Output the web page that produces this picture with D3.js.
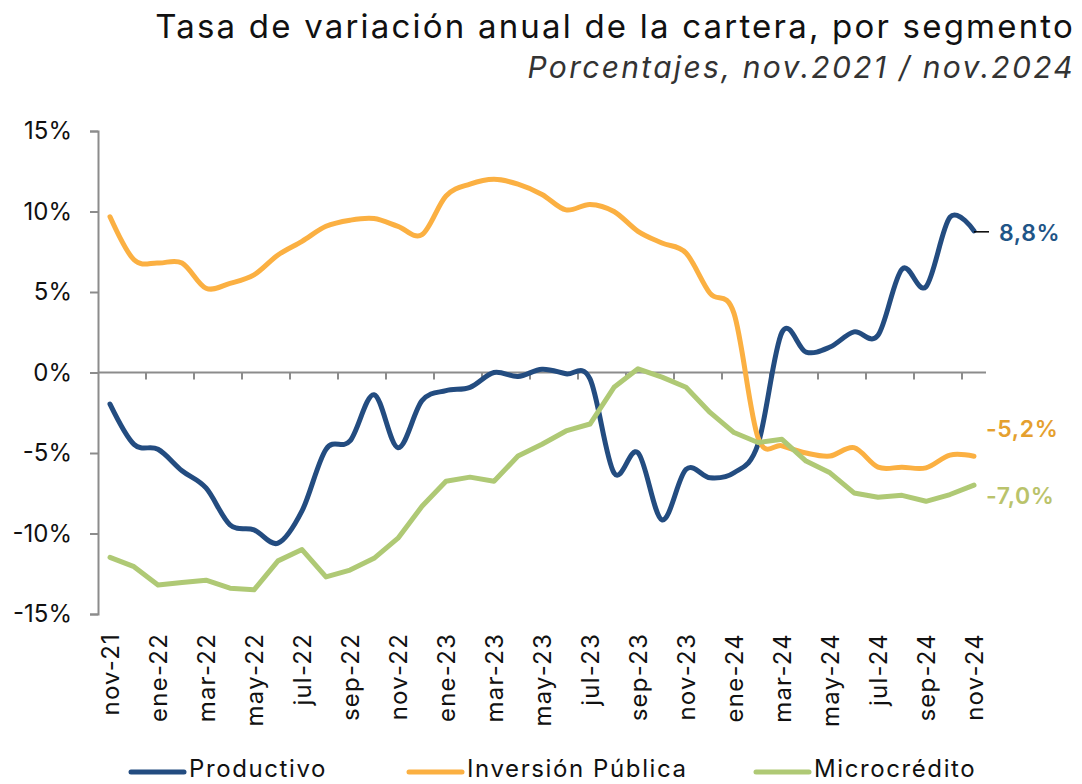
<!DOCTYPE html>
<html>
<head>
<meta charset="utf-8">
<script src="https://cdn.jsdelivr.net/npm/d3@7"></script>
<style>
  body { margin: 0; background: #fff; }
  svg { display: block; font-family: Inter, "Noto Sans", sans-serif; }
</style>
</head>
<body>
<svg id="chart" width="1082" height="784"></svg>
<script>
// monthly categories nov-21 .. nov-24
const months = ['nov-21','dic-21','ene-22','feb-22','mar-22','abr-22','may-22','jun-22','jul-22','ago-22','sep-22','oct-22',
  'nov-22','dic-22','ene-23','feb-23','mar-23','abr-23','may-23','jun-23','jul-23','ago-23','sep-23','oct-23',
  'nov-23','dic-23','ene-24','feb-24','mar-24','abr-24','may-24','jun-24','jul-24','ago-24','sep-24','oct-24','nov-24'];
const tickLabels = months.filter((m, i) => i % 2 === 0);

const productivo = [-1.96,-4.46,-4.77,-6.1,-7.17,-9.46,-9.77,-10.6,-8.6,-4.77,-4.25,-1.38,-4.67,-1.75,-1.13,-0.92,0.0,-0.25,0.2,
  -0.08,-0.4,-6.23,-4.98,-9.15,-6.02,-6.54,-6.23,-4.46,2.5,1.27,1.58,2.52,2.31,6.42,5.33,9.65,8.8];
const inversion = [9.67,7.0,6.8,6.8,5.23,5.54,6.06,7.3,8.15,9.08,9.46,9.56,9.08,8.56,10.96,11.7,12.0,11.7,11.06,
  10.1,10.44,10.0,8.77,8.04,7.42,4.92,3.67,-4.04,-4.55,-5.0,-5.19,-4.67,-5.88,-5.88,-5.92,-5.13,-5.2];
const microcredito = [-11.48,-12.06,-13.2,-13.04,-12.9,-13.4,-13.5,-11.7,-11.0,-12.7,-12.27,-11.54,-10.29,-8.31,-6.75,-6.5,-6.75,-5.19,-4.46,
  -3.63,-3.2,-0.92,0.23,-0.29,-0.92,-2.48,-3.73,-4.35,-4.15,-5.5,-6.23,-7.48,-7.75,-7.63,-8.0,-7.58,-7.0];
const yTicks = [-15,-10,-5,0,5,10,15];

const seriesNames = ['Productivo','Inversión Pública','Microcrédito'];
const seriesColors = ['#234c80','#fbb042','#afc975'];
const labelColors = ['#1f5587','#e5a02e','#bac36b'];
const endLabels = ['8,8%','-5,2%','-7,0%'];

const svg = d3.select('#chart');
const plotL = 98, plotR = 986, plotT = 131, plotB = 614;

const x = d3.scaleBand().domain(months).range([plotL, plotR]);
const y = d3.scaleLinear().domain([-15, 15]).range([plotB, plotT]);

// title
svg.append('text')
  .attr('x', 1075).attr('y', 38)
  .attr('text-anchor', 'end')
  .attr('font-size', 33).attr('letter-spacing', 2.2).attr('fill', '#111')
  .text('Tasa de variación anual de la cartera, por segmento');
svg.append('text')
  .attr('x', 1075).attr('y', 78)
  .attr('text-anchor', 'end')
  .attr('font-size', 30).attr('letter-spacing', 2.3).attr('font-style', 'italic').attr('fill', '#333')
  .text('Porcentajes, nov.2021 / nov.2024');

// y axis
const yAxis = svg.append('g')
  .attr('transform', `translate(${plotL},0)`)
  .call(d3.axisLeft(y).tickValues(yTicks).tickSize(8).tickPadding(18).tickFormat(d => d + '%'));
yAxis.select('.domain').attr('stroke', '#8c8c8c').attr('stroke-width', 2);
yAxis.selectAll('.tick line').attr('stroke', '#8c8c8c').attr('stroke-width', 2);
yAxis.selectAll('.tick text').attr('font-size', 24).attr('fill', '#111').attr('font-family', 'Inter, sans-serif');

// x axis on the zero line
const xGrp = svg.append('g');
xGrp.append('line')
  .attr('x1', plotL).attr('x2', plotR)
  .attr('y1', y(0)).attr('y2', y(0))
  .attr('stroke', '#8c8c8c').attr('stroke-width', 2);
xGrp.selectAll('line.tk')
  .data(months.filter((m, i) => i % 2 === 0 && i > 0))
  .enter().append('line')
  .attr('class', 'tk')
  .attr('x1', d => x(d)).attr('x2', d => x(d))
  .attr('y1', y(0)).attr('y2', y(0) + 7)
  .attr('stroke', '#8c8c8c').attr('stroke-width', 2);

// x labels at bottom, rotated
svg.selectAll('text.xl')
  .data(tickLabels)
  .enter().append('text')
  .attr('class', 'xl')
  .attr('transform', d => `translate(${x(d) + x.bandwidth() / 2 + 9},633) rotate(-90)`)
  .attr('text-anchor', 'end')
  .attr('font-size', 24).attr('letter-spacing', 1.2).attr('fill', '#111')
  .text(d => d);

// lines
const allSeries = [productivo, inversion, microcredito];
const curves = [d3.curveCardinal.tension(0), d3.curveCardinal.tension(0), d3.curveLinear];
allSeries.forEach((vals, s) => {
  const line = d3.line()
    .x((d, i) => x(months[i]) + x.bandwidth() / 2)
    .y(d => y(d))
    .curve(curves[s]);
  svg.append('path')
    .datum(vals)
    .attr('d', line)
    .attr('fill', 'none')
    .attr('stroke', seriesColors[s])
    .attr('stroke-width', 5)
    .attr('stroke-linejoin', 'round')
    .attr('stroke-linecap', 'round');
});

// end labels
const lastX = x(months[months.length - 1]) + x.bandwidth() / 2;
svg.append('line')
  .attr('x1', lastX).attr('x2', lastX + 15)
  .attr('y1', y(productivo[productivo.length - 1]) + 1)
  .attr('y2', y(productivo[productivo.length - 1]) + 1)
  .attr('stroke', '#000').attr('stroke-width', 1.5);
const labelY = [y(productivo[36]) + 2, y(inversion[36]) - 27, y(microcredito[36]) + 11];
const labelX = [999, 986, 986];
endLabels.forEach((t, s) => {
  svg.append('text')
    .attr('x', labelX[s]).attr('y', labelY[s])
    .attr('dy', '0.35em')
    .attr('font-size', 23).attr('font-weight', 600).attr('letter-spacing', 0.6)
    .attr('fill', labelColors[s])
    .text(t);
});

// legend
const legendX = [131, 409, 756];
seriesNames.forEach((n, s) => {
  const g = svg.append('g').attr('transform', `translate(${legendX[s]},772)`);
  g.append('line')
    .attr('x1', 0).attr('x2', 53)
    .attr('stroke', seriesColors[s]).attr('stroke-width', 5).attr('stroke-linecap', 'round');
  g.append('text')
    .attr('x', 58).attr('y', 5)
    .attr('font-size', 24).attr('letter-spacing', 1.6).attr('fill', '#111')
    .text(n);
});
</script>
</body>
</html>
